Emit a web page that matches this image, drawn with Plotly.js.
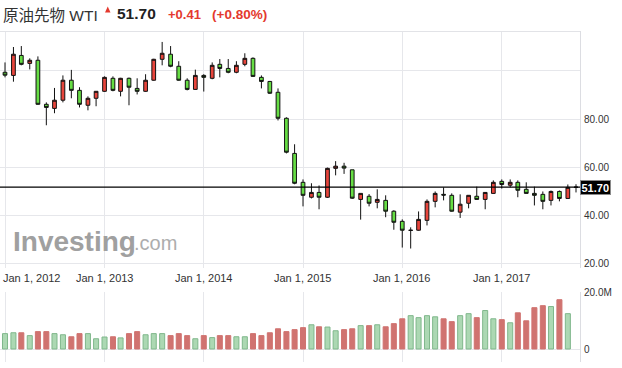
<!DOCTYPE html>
<html>
<head>
<meta charset="utf-8">
<script src="https://cdn.plot.ly/plotly-3.0.1.min.js"></script>
<style>
html,body{margin:0;padding:0;background:#fff;}
#chart{width:622px;height:368px;}
</style>
</head>
<body>
<div id="chart"></div>
<script>
// ---- data (monthly WTI, Jan 2012 - Oct 2017) ----
const startYear = 2012, monthCount = 70;
const openP  = [99.4,98.1,106.4,103.1,104.4,86.1,84.4,87.8,96.1,91.9,85.7,88.6,
                91.5,96.9,91.5,96.9,92.7,91.5,96.1,104.8,106.9,101.9,96.1,92.3,
                98.1,96.9,102.7,101.0,99.4,102.7,105.2,97.3,95.6,91.1,80.3,65.7,
                53.7,47.5,49.5,47.5,59.5,60.4,58.9,46.6,47.9,45.4,46.2,41.7,
                37.5,33.7,33.8,37.9,45.8,48.7,48.3,41.3,45.0,47.9,46.6,49.1,
                54.1,52.5,53.7,50.8,49.1,48.7,46.2,49.9,47.0,51.6];
const highP  = [103.5,109.9,110.3,105.2,106.0,86.9,92.9,98.1,100.4,93.2,89.4,91.6,
                97.7,97.7,97.1,97.2,96.9,98.6,105.0,112.0,110.3,104.0,96.9,100.5,
                98.6,103.5,104.9,104.9,104.0,107.3,105.6,98.1,95.8,92.7,80.7,69.5,
                54.9,53.3,52.4,59.8,62.5,61.8,58.9,49.1,48.8,50.8,48.3,42.1,
                38.3,35.0,41.6,46.6,49.9,51.6,49.1,48.7,48.4,51.9,49.6,54.5,
                54.9,54.9,54.5,53.7,51.9,49.9,50.3,50.3,52.8,52.9];
const lowP   = [97.3,95.5,102.3,100.6,85.9,77.4,82.4,86.9,88.6,84.8,83.6,85.3,
                91.3,91.5,89.4,85.7,90.2,91.3,95.9,102.3,101.5,95.9,91.9,92.1,
                91.4,96.5,97.3,99.0,99.0,101.9,97.5,92.7,90.4,79.4,65.7,52.9,
                43.7,47.0,42.5,47.2,56.6,57.2,46.8,38.2,43.7,42.9,39.2,34.0,
                26.6,26.2,33.6,35.8,43.3,46.2,41.5,38.9,42.9,46.5,42.5,49.0,
                51.1,51.6,47.5,49.0,44.1,42.5,44.1,45.8,46.9,49.5];
const closeP = [98.2,106.9,102.7,104.4,86.1,84.8,87.8,96.1,91.9,86.1,88.6,91.5,
                97.3,91.9,96.9,93.2,91.5,96.1,104.8,107.3,101.9,96.1,92.3,98.1,
                97.3,102.3,101.0,99.4,102.3,105.2,97.7,95.6,90.7,80.3,66.2,53.3,
                48.3,49.5,47.5,59.5,60.4,59.6,47.1,49.1,45.0,46.6,41.7,37.1,
                33.8,33.8,38.3,45.8,49.1,48.4,41.7,44.6,48.3,46.6,49.5,53.7,
                52.8,53.7,50.4,49.1,48.3,45.8,49.9,47.0,51.6,51.7];
// volume in millions (69 months, Jan 2012 - Sep 2017)
const volumeM = [5.4,5.7,5.7,4.7,6.1,6.1,5.4,5.0,4.3,5.4,5.4,3.6,
                 4.2,4.3,3.9,5.4,6.1,5.0,5.4,5.4,4.7,5.4,4.7,3.6,
                 4.7,4.0,4.7,4.7,4.3,4.3,5.4,4.7,5.7,7.1,6.1,6.8,
                 7.5,8.5,7.8,7.7,6.4,6.8,7.1,8.2,8.2,8.5,7.8,8.9,
                 10.6,11.7,11.0,11.7,11.3,10.6,9.6,11.7,12.4,11.0,13.5,10.6,
                 10.3,9.2,12.7,9.9,14.5,15.2,14.9,17.3,12.4];
const volumeSide = ['g','g','r','g','r','r','g','g','r','r','g','g',
                    'g','r','g','r','r','g','g','g','r','r','r','g',
                    'r','g','r','r','g','g','r','r','r','r','r','r',
                    'r','g','r','g','g','r','r','g','r','g','r','r',
                    'r','g','g','g','g','r','r','g','g','r','g','g',
                    'r','g','r','r','r','r','g','r','g'];
const lastPrice = 51.70;
const yearTickDates  = ['2012-01-01','2013-01-01','2014-01-01','2015-01-01','2016-01-01','2017-01-01'];
const yearTickLabels = ['Jan 1, 2012','Jan 1, 2013','Jan 1, 2014','Jan 1, 2015','Jan 1, 2016','Jan 1, 2017'];
const priceTicks     = [20,40,60,80,100];
const priceTickText  = ['20.00','40.00','60.00','80.00',''];
const volTicks       = [0,20];
const volTickText    = ['0','20.0M'];
const titleName  = '原油先物 WTI';
const titlePrice = '51.70';
const titleChg   = '+0.41';
const titlePct   = '(+0.80%)';

// ---- build ----
const months = [];
for (let i = 0; i < monthCount; i++) {
  const y = startYear + Math.floor(i / 12), m = i % 12 + 1;
  months.push(y + '-' + String(m).padStart(2, '0') + '-01');
}
const volMonths = months.slice(0, volumeM.length);

const W = 622, H = 368;
const px = v => v / W, py = v => 1 - v / H;
const FONT = '"Liberation Sans", Arial, "Noto Sans CJK JP", sans-serif';
const RED = '#e4392e';
const GRID = '#e6e7eb';

const candle = {
  type: 'candlestick', x: months, open: openP, high: highP, low: lowP, close: closeP,
  xaxis: 'x', yaxis: 'y', whiskerwidth: 0,
  increasing: {line: {color: '#111', width: 1}, fillcolor: '#e8453c'},
  decreasing: {line: {color: '#111', width: 1}, fillcolor: '#66dd44'},
  hoverinfo: 'skip', showlegend: false
};
const vol = {
  type: 'bar', x: volMonths, y: volumeM, xaxis: 'x2', yaxis: 'y2',
  width: 18.5 * 86400000,
  marker: {
    color: volumeSide.map(s => s === 'g' ? '#acd8b3' : '#d07370'),
    line: {color: volumeSide.map(s => s === 'g' ? '#7fb78b' : '#d07370'), width: 1}
  },
  hoverinfo: 'skip', showlegend: false
};

const xRange = ['2011-12-13 14:00', '2017-10-15 17:00'];
const xCommon = {
  type: 'date', range: xRange, domain: [0, px(580)],
  tickvals: yearTickDates, showticklabels: false, ticks: '',
  showgrid: true, gridcolor: GRID, gridwidth: 1, zeroline: false, showline: false,
  fixedrange: true
};

const annotations = [];
yearTickDates.forEach((d, i) => {
  annotations.push({
    xref: 'x', yref: 'paper', x: d, y: py(278), text: yearTickLabels[i],
    showarrow: false, xanchor: i === 0 ? 'left' : 'center', yanchor: 'middle',
    xshift: i === 0 ? -4 : 0,
    font: {family: FONT, size: 11, color: '#333'}
  });
});
// header
annotations.push({xref:'paper', yref:'paper', x: px(1), y: py(16), xanchor:'left', yanchor:'middle',
  text: titleName, showarrow:false, font:{family: FONT, size:15.5, color:'#333'}});
annotations.push({xref:'paper', yref:'paper', x: px(115), y: py(13.5), xanchor:'left', yanchor:'middle',
  text: '<b>' + titlePrice + '</b>', showarrow:false, font:{family: FONT, size:15.5, color:'#222'}});
annotations.push({xref:'paper', yref:'paper', x: px(166), y: py(14.5), xanchor:'left', yanchor:'middle',
  text: '<b>' + titleChg + '</b>', showarrow:false, font:{family: FONT, size:13, color: RED}});
annotations.push({xref:'paper', yref:'paper', x: px(210), y: py(14.5), xanchor:'left', yanchor:'middle',
  text: '<b>' + titlePct + '</b>', showarrow:false, font:{family: FONT, size:13.5, color: RED}});
// watermark
annotations.push({xref:'paper', yref:'paper', x: px(11), y: py(241), xanchor:'left', yanchor:'middle',
  text: '<b>Investing</b>', showarrow:false, font:{family: FONT, size:28, color:'#a0a0a0'}});
annotations.push({xref:'paper', yref:'paper', x: px(132), y: py(243), xanchor:'left', yanchor:'middle',
  text: '.com', showarrow:false, font:{family: FONT, size:20, color:'#adadad'}});
// last price label
annotations.push({xref:'paper', yref:'y', x: px(580), y: lastPrice, xanchor:'left', yanchor:'middle',
  text: '<b>' + lastPrice.toFixed(2) + '</b>', showarrow:false,
  font:{family: FONT, size:11, color:'#fff'}, bgcolor:'#000', bordercolor:'#8a8a8a', borderwidth:1, borderpad:0.5});

// small up-arrow marker in header (decoration)
const tri = 'M ' + px(105) + ',' + py(12.5) + ' L ' + px(110.5) + ',' + py(12.5) +
            ' L ' + px(107.75) + ',' + py(6.5) + ' Z';

const layout = {
  width: W, height: H, margin: {l:0, r:0, t:0, b:0},
  paper_bgcolor: '#fff', plot_bgcolor: '#fff', showlegend: false,
  font: {family: FONT, size: 10, color: '#333'},
  xaxis: Object.assign({}, xCommon, {anchor: 'y', rangeslider: {visible: false}}),
  xaxis2: Object.assign({}, xCommon, {anchor: 'y2'}),
  yaxis: {
    domain: [1 - 268 / H, 1 - 31 / H], range: [18.11, 116.55], side: 'right',
    tickvals: priceTicks, ticktext: priceTickText, ticks: 'outside', ticklen: 1, tickcolor: 'rgba(0,0,0,0)',
    showgrid: true, gridcolor: GRID, zeroline: false, showline: true, linecolor: '#dcdde2', linewidth: 1,
    tickfont: {family: FONT, size: 10, color: '#333'}, fixedrange: true
  },
  yaxis2: {
    domain: [1 - 362 / H, 1 - 292 / H], range: [-4.561, 20], side: 'right',
    tickvals: volTicks, ticktext: volTickText, ticks: 'outside', ticklen: 1, tickcolor: 'rgba(0,0,0,0)',
    showgrid: true, gridcolor: GRID, zeroline: false, showline: true, linecolor: '#dcdde2', linewidth: 1,
    tickfont: {family: FONT, size: 10, color: '#333'}, fixedrange: true
  },
  bargap: 0.3,
  shapes: [
    {type:'line', xref:'paper', yref:'paper', x0:0, x1:px(580), y0:py(31.5), y1:py(31.5),
     line:{color:'#e2e3e7', width:1}},
    {type:'line', xref:'paper', yref:'y', x0:0, x1:px(580), y0:lastPrice, y1:lastPrice,
     line:{color:'#000', width:1.3}},
    {type:'path', xref:'paper', yref:'paper', path: tri, fillcolor: RED, line:{width:0}}
  ],
  annotations: annotations
};

Plotly.newPlot('chart', [candle, vol], layout, {staticPlot: true, displayModeBar: false});
</script>
</body>
</html>
